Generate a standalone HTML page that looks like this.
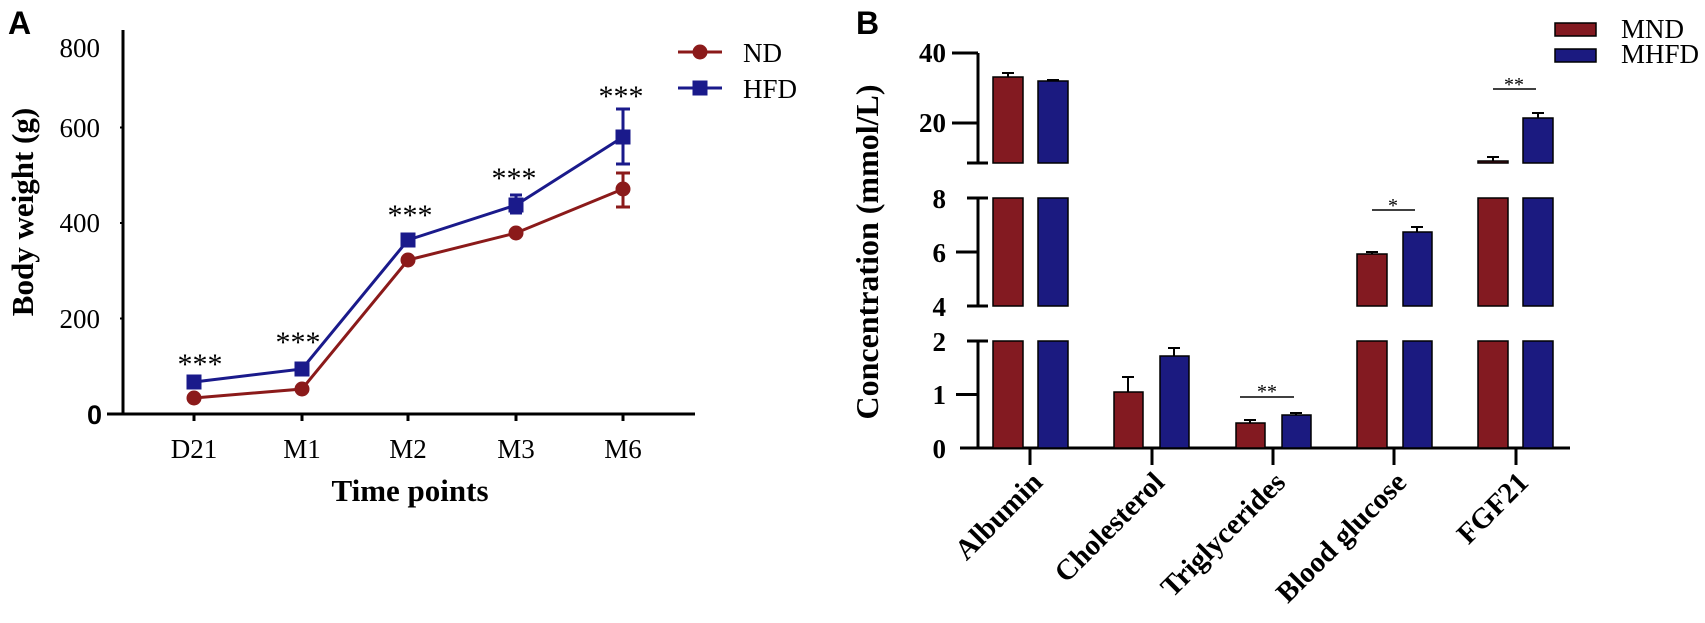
<!DOCTYPE html>
<html><head><style>
body{margin:0;background:#fff;}
svg text{font-family:"Liberation Serif",serif;}
</style></head><body>
<svg width="1705" height="618" viewBox="0 0 1705 618" xmlns="http://www.w3.org/2000/svg">
<!-- Panel A -->
<text x="8" y="34" font-weight="bold" font-size="32" style="font-family:'Liberation Sans',sans-serif">A</text>
<line x1="123" y1="30" x2="123" y2="415" stroke="#000" stroke-width="3"/>
<line x1="107" y1="414" x2="695" y2="414" stroke="#000" stroke-width="3"/>
<g stroke="#000" stroke-width="2">
<line x1="120" y1="127.5" x2="123" y2="127.5"/><line x1="120" y1="223" x2="123" y2="223"/><line x1="120" y1="318.5" x2="123" y2="318.5"/>
</g>
<g font-size="27" text-anchor="end">
<text x="100" y="57">800</text>
<text x="100" y="137">600</text>
<text x="100" y="232">400</text>
<text x="100" y="328">200</text>
<text x="102" y="424" font-weight="bold" style="font-family:'Liberation Sans',sans-serif">0</text>
</g>
<g stroke="#000" stroke-width="3">
<line x1="194" y1="414" x2="194" y2="421"/><line x1="302" y1="414" x2="302" y2="421"/><line x1="408" y1="414" x2="408" y2="421"/><line x1="516" y1="414" x2="516" y2="421"/><line x1="623" y1="414" x2="623" y2="421"/>
</g>
<g font-size="27" text-anchor="middle">
<text x="194" y="458">D21</text><text x="302" y="458">M1</text><text x="408" y="458">M2</text><text x="516" y="458">M3</text><text x="623" y="458">M6</text>
</g>
<text x="410" y="501" font-size="31" font-weight="bold" text-anchor="middle">Time points</text>
<text transform="translate(33,212) rotate(-90)" font-size="31" font-weight="bold" text-anchor="middle">Body weight (g)</text>
<!-- ND -->
<g stroke="#8b1a1a" stroke-width="3" fill="none">
<polyline points="194,398 302,389 408,260 516,233 623,189"/>
<line x1="623" y1="173" x2="623" y2="207"/><line x1="616" y1="173" x2="630" y2="173"/><line x1="616" y1="207" x2="630" y2="207"/>
<line x1="408" y1="253" x2="408" y2="267"/>
</g>
<g fill="#8b1a1a">
<circle cx="194" cy="398" r="7.5"/><circle cx="302" cy="389" r="7.5"/><circle cx="408" cy="260" r="7.5"/><circle cx="516" cy="233" r="7.5"/><circle cx="623" cy="189" r="7.5"/>
</g>
<!-- HFD -->
<g stroke="#1a1a8b" stroke-width="3" fill="none">
<polyline points="194,382 302,369 408,240 516,205 623,137"/>
<line x1="623" y1="109" x2="623" y2="164"/><line x1="616" y1="109" x2="630" y2="109"/><line x1="616" y1="164" x2="630" y2="164"/>
<line x1="516" y1="195" x2="516" y2="213"/><line x1="510" y1="195" x2="522" y2="195"/><line x1="510" y1="213" x2="522" y2="213"/>
</g>
<g fill="#1a1a8b">
<rect x="186.5" y="374.5" width="15" height="15"/><rect x="294.5" y="361.5" width="15" height="15"/><rect x="400.5" y="232.5" width="15" height="15"/><rect x="508.5" y="197.5" width="15" height="15"/><rect x="615.5" y="129.5" width="15" height="15"/>
</g>
<g font-size="30" text-anchor="middle">
<text x="200" y="374">***</text><text x="298" y="352">***</text><text x="410" y="225">***</text><text x="514" y="188">***</text><text x="621" y="106">***</text>
</g>
<!-- legend A -->
<line x1="678" y1="52" x2="722" y2="52" stroke="#8b1a1a" stroke-width="3"/><circle cx="700" cy="52" r="7.5" fill="#8b1a1a"/>
<text x="743" y="62" font-size="27">ND</text>
<line x1="678" y1="88" x2="722" y2="88" stroke="#1a1a8b" stroke-width="3"/><rect x="692.5" y="80.5" width="15" height="15" fill="#1a1a8b"/>
<text x="743" y="98" font-size="27">HFD</text>

<!-- Panel B -->
<text x="856" y="34" font-weight="bold" font-size="32" style="font-family:'Liberation Sans',sans-serif">B</text>
<text transform="translate(878,252) rotate(-90)" font-size="32" font-weight="bold" text-anchor="middle">Concentration (mmol/L)</text>
<g stroke="#000" stroke-width="3">
<line x1="978" y1="53" x2="978" y2="163"/><line x1="952" y1="53" x2="978" y2="53"/><line x1="952" y1="123" x2="978" y2="123"/><line x1="967" y1="163" x2="988" y2="163"/>
<line x1="978" y1="198" x2="978" y2="306"/><line x1="967" y1="198" x2="988" y2="198"/><line x1="956" y1="252" x2="978" y2="252"/><line x1="967" y1="306" x2="988" y2="306"/>
<line x1="978" y1="341" x2="978" y2="448"/><line x1="967" y1="341" x2="988" y2="341"/><line x1="956" y1="394.5" x2="978" y2="394.5"/>
<line x1="960" y1="448" x2="1570" y2="448"/>
<line x1="1030" y1="448" x2="1030" y2="465"/><line x1="1152" y1="448" x2="1152" y2="465"/><line x1="1273" y1="448" x2="1273" y2="465"/><line x1="1394" y1="448" x2="1394" y2="465"/><line x1="1516" y1="448" x2="1516" y2="465"/>
</g>
<g font-size="27" font-weight="bold" text-anchor="end">
<text x="946" y="62">40</text><text x="946" y="132">20</text>
<text x="946" y="208">8</text><text x="946" y="262">6</text><text x="946" y="316">4</text>
<text x="946" y="351">2</text><text x="946" y="404">1</text><text x="946" y="458">0</text>
</g>
<g stroke="#000" stroke-width="1.5">
<rect x="993" y="77" width="30" height="86" fill="#831a21"/><rect x="1038" y="81" width="30" height="82" fill="#1b1a80"/>
<rect x="993" y="198" width="30" height="108" fill="#831a21"/><rect x="1038" y="198" width="30" height="108" fill="#1b1a80"/>
<rect x="993" y="341" width="30" height="107" fill="#831a21"/><rect x="1038" y="341" width="30" height="107" fill="#1b1a80"/>
<rect x="1114" y="392" width="29" height="56" fill="#831a21"/><rect x="1160" y="356" width="29" height="92" fill="#1b1a80"/>
<rect x="1236" y="423" width="29" height="25" fill="#831a21"/><rect x="1282" y="415" width="29" height="33" fill="#1b1a80"/>
<rect x="1357" y="254" width="30" height="52" fill="#831a21"/><rect x="1403" y="232" width="29" height="74" fill="#1b1a80"/>
<rect x="1357" y="341" width="30" height="107" fill="#831a21"/><rect x="1403" y="341" width="29" height="107" fill="#1b1a80"/>
<rect x="1478" y="161" width="30" height="2" fill="#831a21"/><rect x="1523" y="118" width="30" height="45" fill="#1b1a80"/>
<rect x="1478" y="198" width="30" height="108" fill="#831a21"/><rect x="1523" y="198" width="30" height="108" fill="#1b1a80"/>
<rect x="1478" y="341" width="30" height="107" fill="#831a21"/><rect x="1523" y="341" width="30" height="107" fill="#1b1a80"/>
</g>
<g stroke="#000" stroke-width="2" fill="none">
<path d="M1008 77V73M1002 73H1014"/><path d="M1053 81V80M1047 80H1059"/>
<path d="M1128 392V377M1122 377H1134"/><path d="M1174 356V348M1168 348H1180"/>
<path d="M1250 423V420M1244 420H1256"/><path d="M1296 415V413M1290 413H1302"/>
<path d="M1372 254V252M1366 252H1378"/><path d="M1417 232V227M1411 227H1423"/>
<path d="M1493 161V157M1487 157H1499"/><path d="M1538 118V113M1532 113H1544"/>
</g>
<g stroke="#000" stroke-width="1.5">
<line x1="1240" y1="397" x2="1294" y2="397"/><line x1="1372" y1="210" x2="1415" y2="210"/><line x1="1493" y1="89" x2="1536" y2="89"/>
</g>
<g font-size="20" text-anchor="middle">
<text x="1267" y="398">**</text><text x="1393" y="212">*</text><text x="1514" y="91">**</text>
</g>
<rect x="1555" y="23" width="41" height="13" fill="#831a21" stroke="#000" stroke-width="1.5"/>
<text x="1621" y="38" font-size="27">MND</text>
<rect x="1555" y="49" width="41" height="13" fill="#1b1a80" stroke="#000" stroke-width="1.5"/>
<text x="1621" y="63" font-size="27">MHFD</text>
<g font-size="29" font-weight="bold" text-anchor="end">
<text transform="translate(1044,484) rotate(-45)">Albumin</text>
<text transform="translate(1166,484) rotate(-45)">Cholesterol</text>
<text transform="translate(1287,484) rotate(-45)">Triglycerides</text>
<text transform="translate(1408,484) rotate(-45)">Blood glucose</text>
<text transform="translate(1530,484) rotate(-45)">FGF21</text>
</g>
</svg>
</body></html>
